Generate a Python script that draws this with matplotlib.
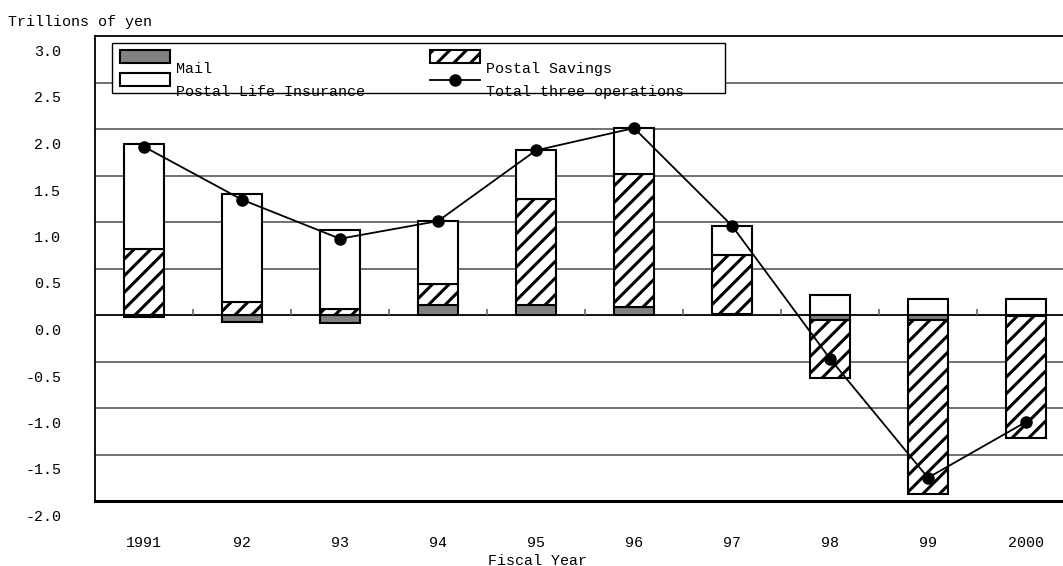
import numpy as np
import matplotlib.pyplot as plt
from matplotlib.patches import Rectangle
from matplotlib.lines import Line2D
from matplotlib.transforms import blended_transform_factory, ScaledTranslation

years = ["1991", "92", "93", "94", "95", "96", "97", "98", "99", "2000"]
mail = [-0.02, -0.07, -0.09, 0.11, 0.11, 0.09, 0.01, -0.05, -0.05, -0.01]
savings = [0.71, 0.14, 0.06, 0.22, 1.14, 1.43, 0.64, -0.63, -1.87, -1.31]
life_ins = [1.13, 1.16, 0.85, 0.68, 0.52, 0.49, 0.31, 0.21, 0.17, 0.17]
total = [1.81, 1.24, 0.82, 1.01, 1.77, 2.01, 0.96, -0.47, -1.75, -1.15]
yticks = [3.0, 2.5, 2.0, 1.5, 1.0, 0.5, 0.0, -0.5, -1.0, -1.5, -2.0]

plt.rcParams['font.family'] = ['Liberation Mono', 'DejaVu Sans Mono']
plt.rcParams['hatch.linewidth'] = 2.2
FS = 10.8

W, H = 1063, 566
fig = plt.figure(figsize=(W/100, H/100), dpi=100)
ax = fig.add_axes([95/W, 65/H, 968/W, 465/H])


def px(x, y):
    # pixel position (from top-left) -> figure fraction
    return x/W, 1 - y/H


x = np.arange(len(years))
w = 0.41
mail = np.array(mail)
savings = np.array(savings)
life_ins = np.array(life_ins)

# stack each series from zero: positives above, negatives below
pos_base = np.zeros(len(x))
neg_base = np.zeros(len(x))
for vals, style in [(mail, dict(color='#808080')),
                    (savings, dict(color='white', hatch='//')),
                    (life_ins, dict(color='white'))]:
    base = np.where(vals >= 0, pos_base, neg_base)
    ax.bar(x, vals, w, bottom=base, edgecolor='black', linewidth=1.5,
           zorder=3, **style)
    pos_base = pos_base + np.where(vals >= 0, vals, 0)
    neg_base = neg_base + np.where(vals < 0, vals, 0)

ax.plot(x, total, color='black', lw=1.3, marker='o', markersize=8, zorder=5)

ax.set_xlim(-0.5, -0.5 + 968/98)
ax.set_ylim(-2.0, 3.0)

for v in yticks:
    if v == 0:
        ax.axhline(0, color='black', lw=1.3, zorder=2)
    elif -2.0 < v < 3.0:
        ax.axhline(v, color='#666666', lw=1.3, zorder=1)

# small category separators on the zero line
ax.vlines(x[:-1] + 0.5, 0, 0.06, color='#666666', lw=1.2, zorder=2)

ax.set_xticks([])
ax.set_yticks([])
for s in ['left', 'top']:
    ax.spines[s].set_linewidth(1.3)
ax.spines['bottom'].set_linewidth(2.2)
ax.spines['right'].set_visible(False)

ytr = blended_transform_factory(fig.transFigure, ax.transData) + \
    ScaledTranslation(0, -9/100, fig.dpi_scale_trans)
for v in yticks:
    ax.text(61/W, v, f"{v:.1f}", transform=ytr, ha='right', va='top',
            fontsize=FS)

xtr = blended_transform_factory(ax.transData, fig.transFigure)
for xi, lab in zip(x, years):
    ax.text(xi, 1 - 543/H, lab, transform=xtr, ha='center', va='center',
            fontsize=FS)

fig.text(*px(8, 22), "Trillions of yen", ha='left', va='center', fontsize=FS)
fig.text(*px(537, 561), "Fiscal Year", ha='center', va='center', fontsize=FS)

# legend box
ft = fig.transFigure
fig.add_artist(Rectangle(px(112, 93), 613/W, 50/H, transform=ft,
                         facecolor='white', edgecolor='black', lw=1.0,
                         zorder=6))
keys = [("Mail", 120, 50, dict(facecolor='#808080')),
        ("Postal Life Insurance", 120, 73, dict(facecolor='white')),
        ("Postal Savings", 430, 50, dict(facecolor='white', hatch='//'))]
for lab, kx, ky, style in keys:
    fig.add_artist(Rectangle(px(kx, ky + 13), 50/W, 13/H, transform=ft,
                             edgecolor='black', lw=1.5, zorder=7, **style))
    fig.text(*px(kx + 56, ky + 19), lab, ha='left', va='center',
             fontsize=FS, zorder=7)
lx, ly = px(430, 80)
fig.add_artist(Line2D([lx, lx + 50/W], [ly, ly], transform=ft, color='black',
                      lw=1.3, zorder=7))
fig.add_artist(Line2D([lx + 25/W], [ly], transform=ft, color='black',
                      marker='o', markersize=8, zorder=7))
fig.text(*px(486, 92), "Total three operations", ha='left', va='center',
         fontsize=FS, zorder=7)

fig.savefig("out.png", dpi=100)
